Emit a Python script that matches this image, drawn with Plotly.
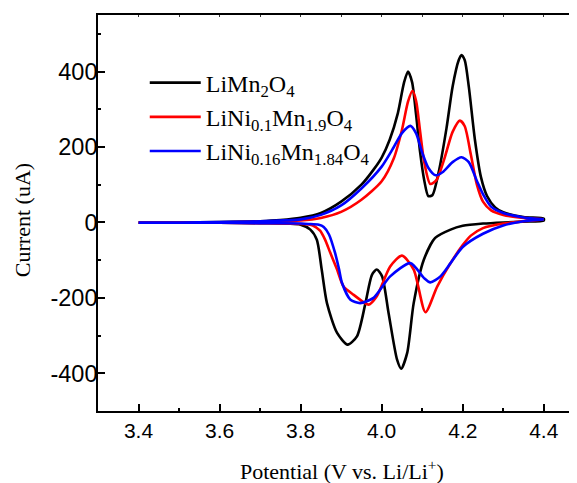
import plotly.graph_objects as go

# ---------------- data ----------------
names = ["LiMn<sub>2</sub>O<sub>4</sub>",
         "LiNi<sub>0.1</sub>Mn<sub>1.9</sub>O<sub>4</sub>",
         "LiNi<sub>0.16</sub>Mn<sub>1.84</sub>O<sub>4</sub>"]
colors = ["#000000", "#ff0000", "#0000ff"]

# anodic (oxidation) branch, 3.4 -> 4.4 V
black_ox_v = [3.40, 3.50, 3.60, 3.70, 3.75, 3.80, 3.85, 3.90, 3.95, 3.98, 4.00, 4.02, 4.04, 4.055, 4.065,
              4.075, 4.085, 4.095, 4.105, 4.115, 4.125, 4.14, 4.16, 4.175, 4.19, 4.197, 4.205, 4.215,
              4.23, 4.245, 4.26, 4.28, 4.30, 4.35, 4.40]
black_ox_i = [0, 0, 1, 3, 6, 12, 25, 55, 100, 140, 172, 220, 290, 370, 400,
              372, 285, 185, 112, 70, 72, 130, 250, 360, 430, 444, 430, 360,
              220, 120, 70, 40, 27, 14, 10]

red_ox_v = [3.40, 3.50, 3.60, 3.70, 3.80, 3.85, 3.90, 3.95, 4.00, 4.03, 4.05, 4.065, 4.076,
            4.085, 4.095, 4.105, 4.12, 4.135, 4.155, 4.175, 4.193, 4.205, 4.22, 4.235, 4.25,
            4.27, 4.30, 4.35, 4.40]
red_ox_i = [0, 0, 0, 2, 5, 12, 28, 60, 109, 170, 245, 320, 349,
            322, 240, 160, 102, 112, 170, 240, 270, 255, 180, 100, 55,
            32, 20, 12, 8]

blue_ox_v = [3.40, 3.50, 3.60, 3.70, 3.80, 3.85, 3.90, 3.95, 4.00, 4.03, 4.05, 4.071,
             4.085, 4.10, 4.115, 4.133, 4.15, 4.175, 4.197, 4.215, 4.235, 4.25, 4.27,
             4.30, 4.35, 4.40]
blue_ox_i = [0, 0, 1, 3, 8, 20, 45, 90, 148, 200, 237, 256,
             236, 185, 145, 125, 133, 160, 173, 160, 110, 75, 42,
             25, 13, 8]

# cathodic (reduction) branch, 4.4 -> 3.4 V
black_red_v = [4.40, 4.35, 4.30, 4.25, 4.20, 4.17, 4.132, 4.104, 4.079, 4.063, 4.048, 4.038, 4.017,
               4.001, 3.988, 3.976, 3.960, 3.939, 3.916, 3.890, 3.865, 3.852, 3.840, 3.824, 3.80,
               3.70, 3.60, 3.50, 3.40]
black_red_i = [5, 2, 0, -3, -9, -19, -41, -99, -214, -346, -388, -364, -240,
               -143, -125, -139, -214, -302, -324, -293, -214, -125, -46, -19, -6,
               -2, -1, -1, -1]

red_red_v = [4.40, 4.35, 4.30, 4.25, 4.22, 4.20, 4.17, 4.137, 4.108, 4.079, 4.050, 4.021,
             3.988, 3.968, 3.931, 3.906, 3.890, 3.873, 3.860, 3.848, 3.83, 3.80, 3.70, 3.60,
             3.50, 3.40]
red_red_i = [8, 3, -3, -15, -35, -60, -108, -170, -238, -125, -88, -117,
             -196, -218, -192, -170, -125, -80, -45, -22, -8, -4, -2, -1,
             -1, -1]

blue_red_v = [4.40, 4.35, 4.30, 4.25, 4.20, 4.17, 4.145, 4.120, 4.104, 4.071, 4.021, 3.980,
              3.947, 3.923, 3.902, 3.895, 3.885, 3.870, 3.857, 3.845, 3.82, 3.80, 3.70, 3.60,
              3.50, 3.40]
blue_red_i = [8, 3, -8, -30, -65, -108, -143, -159, -147, -108, -143, -200,
              -214, -205, -160, -125, -81, -32, -12, -6, -4, -3, -2, -1,
              -1, -1]

x_tickvals = [3.4, 3.6, 3.8, 4.0, 4.2, 4.4]
x_ticktext = ["3.4", "3.6", "3.8", "4.0", "4.2", "4.4"]
y_tickvals = [-400, -200, 0, 200, 400]
y_ticktext = ["-400", "-200", "0", "200", "400"]

# ---------------- figure ----------------
series = [
    (black_ox_v, black_ox_i, black_red_v, black_red_i),
    (red_ox_v, red_ox_i, red_red_v, red_red_i),
    (blue_ox_v, blue_ox_i, blue_red_v, blue_red_i),
]

fig = go.Figure()
for k, (xo, yo, xr, yr) in enumerate(series):
    fig.add_trace(go.Scatter(
        x=list(xo) + list(xr), y=list(yo) + list(yr),
        mode="lines", name=names[k], legendgroup=str(k),
        line=dict(color=colors[k], width=2.6, shape="spline", smoothing=0.7),
    ))

# dummy trace so that the top mirror axis exists
fig.add_trace(go.Scatter(x=[], y=[], xaxis="x2", showlegend=False, hoverinfo="skip"))

xaxis_font = dict(family="Liberation Sans, Arial", size=21, color="#000000")
yaxis_font = dict(family="Liberation Sans, Arial", size=23.5, color="#000000")
title_font = dict(family="Liberation Serif, Times New Roman", size=22, color="#000000")

fig.update_layout(
    width=569, height=475,
    margin=dict(l=90, r=0, t=7, b=72),
    paper_bgcolor="white", plot_bgcolor="white",
    showlegend=True,
    legend=dict(x=0.0976, y=0.885, xanchor="left", yanchor="top", itemwidth=51,
                font=dict(family="Liberation Serif, Times New Roman", size=24, color="#000000"),
                bgcolor="rgba(0,0,0,0)", borderwidth=0, tracegroupgap=0),
    xaxis=dict(range=[3.3, 4.482], tickvals=x_tickvals, ticktext=x_ticktext,
               ticks="inside", ticklen=7, tickwidth=1.5, tickcolor="#000000",
               minor=dict(dtick=0.1, tick0=3.3, ticks="inside", ticklen=3.5, tickwidth=1.5, tickcolor="#000000"),
               showline=True, linecolor="#000000", linewidth=1.6,
               showgrid=False, zeroline=False, tickfont=xaxis_font),
    xaxis2=dict(range=[3.3, 4.482], overlaying="x", side="top", anchor="y",
                dtick=0.1, tick0=3.3, ticks="inside", ticklen=2, tickwidth=1, tickcolor="#333333",
                showline=True, linecolor="#000000", linewidth=1.6,
                showticklabels=False, showgrid=False, zeroline=False),
    yaxis=dict(range=[-500, 550], tickvals=y_tickvals, ticktext=y_ticktext,
               ticks="inside", ticklen=7, tickwidth=1.5, tickcolor="#000000",
               minor=dict(dtick=100, tick0=0, ticks="inside", ticklen=3.5, tickwidth=1.5, tickcolor="#000000"),
               showline=True, linecolor="#000000", linewidth=1.6, ticklabelstandoff=-6,
               showgrid=False, zeroline=False, tickfont=yaxis_font),
    annotations=[
        dict(text="Potential (V vs. Li/Li<sup>+</sup>)", xref="paper", yref="paper",
             x=0.5085, y=-0.15, xanchor="center", yanchor="middle", showarrow=False,
             font=title_font),
        dict(text="Current (uA)", xref="paper", yref="paper",
             x=-0.159, y=0.4816, xanchor="center", yanchor="middle", showarrow=False,
             textangle=-90, font=title_font),
    ],
)

fig.write_html("out.html")
